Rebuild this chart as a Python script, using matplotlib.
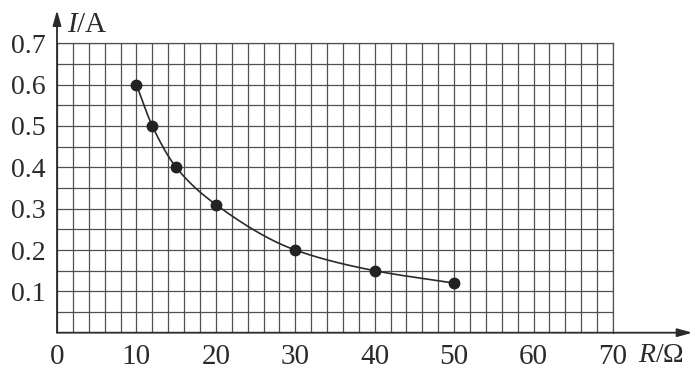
import numpy as np
import matplotlib
matplotlib.use('Agg')
import matplotlib.pyplot as plt

plt.rcParams['font.family'] = ['Liberation Serif', 'DejaVu Serif']
plt.rcParams['mathtext.fontset'] = 'custom'
plt.rcParams['mathtext.rm'] = 'Liberation Serif'
plt.rcParams['mathtext.it'] = 'Liberation Serif:italic'

# data
R = [10, 12, 15, 20, 30, 40, 50]
I = [0.60, 0.50, 0.40, 0.31, 0.20, 0.15, 0.12]
x_ticks = [0, 10, 20, 30, 40, 50, 60, 70]
y_ticks = [0.1, 0.2, 0.3, 0.4, 0.5, 0.6, 0.7]


def pchip(x, y, xs):
    # monotone cubic, only used to draw the smooth line through the points
    x = np.asarray(x, float); y = np.asarray(y, float)
    h = np.diff(x); d = np.diff(y) / h
    m = np.zeros_like(y)
    for k in range(1, len(x) - 1):
        if d[k - 1] * d[k] > 0:
            w1 = 2 * h[k] + h[k - 1]; w2 = h[k] + 2 * h[k - 1]
            m[k] = (w1 + w2) / (w1 / d[k - 1] + w2 / d[k])
    m[0] = d[0]; m[-1] = d[-1]
    idx = np.clip(np.searchsorted(x, xs) - 1, 0, len(h) - 1)
    t = (xs - x[idx]) / h[idx]
    h00 = 2*t**3 - 3*t**2 + 1; h10 = t**3 - 2*t**2 + t
    h01 = -2*t**3 + 3*t**2; h11 = t**3 - t**2
    return h00*y[idx] + h10*h[idx]*m[idx] + h01*y[idx+1] + h11*h[idx]*m[idx+1]


fig = plt.figure(figsize=(6.97, 3.70), dpi=100)
ax = fig.add_axes([57/697, 1 - 332.7/370, 556/697, 289.4/370])
ax.set_xlim(0, 70)
ax.set_ylim(0, 0.7)

ax.set_xticks(x_ticks)
ax.set_yticks(y_ticks)
ax.set_xticks(np.arange(0, 71, 2), minor=True)
ax.set_yticks(np.arange(0, 0.701, 0.05), minor=True)
ax.grid(True, which='both', color='#505050', linewidth=0.9)
ax.set_axisbelow(True)
ax.tick_params(which='both', length=0)
ax.tick_params(axis='x', pad=8, labelsize=21, colors='#2a2a2a')
ax.tick_params(axis='y', pad=8, labelsize=20, colors='#2a2a2a')
ax.set_xticklabels([str(v) for v in x_ticks])
ax.set_yticklabels(['%.1f' % v for v in y_ticks])

for s in ['left', 'bottom']:
    ax.spines[s].set_visible(False)
for s in ['top', 'right']:
    ax.spines[s].set_color('#505050')
    ax.spines[s].set_linewidth(0.9)

arrow = dict(arrowstyle='-|>,head_length=0.9,head_width=0.25', color='#2a2a2a',
             lw=1.3, shrinkA=0, shrinkB=0)
ax.annotate('', xy=(80, 0), xytext=(0, 0), arrowprops=arrow, annotation_clip=False)
ax.annotate('', xy=(0, 0.78), xytext=(0, 0), arrowprops=arrow, annotation_clip=False)

xs = np.linspace(R[0], R[-1], 300)
ax.plot(xs, pchip(R, I, xs), color='#2a2a2a', lw=1.2, clip_on=False)
ax.plot(R, I, 'o', color='#222222', markersize=7.5, clip_on=False, zorder=5)

ax.text(1.2, 0.727, r'$I$/A', fontsize=21, color='#2a2a2a', ha='left', va='baseline')
ax.text(73.2, -0.071, '$R$/\u03a9', fontsize=20, color='#2a2a2a', ha='left', va='baseline')

fig.savefig('out.png', dpi=100)
